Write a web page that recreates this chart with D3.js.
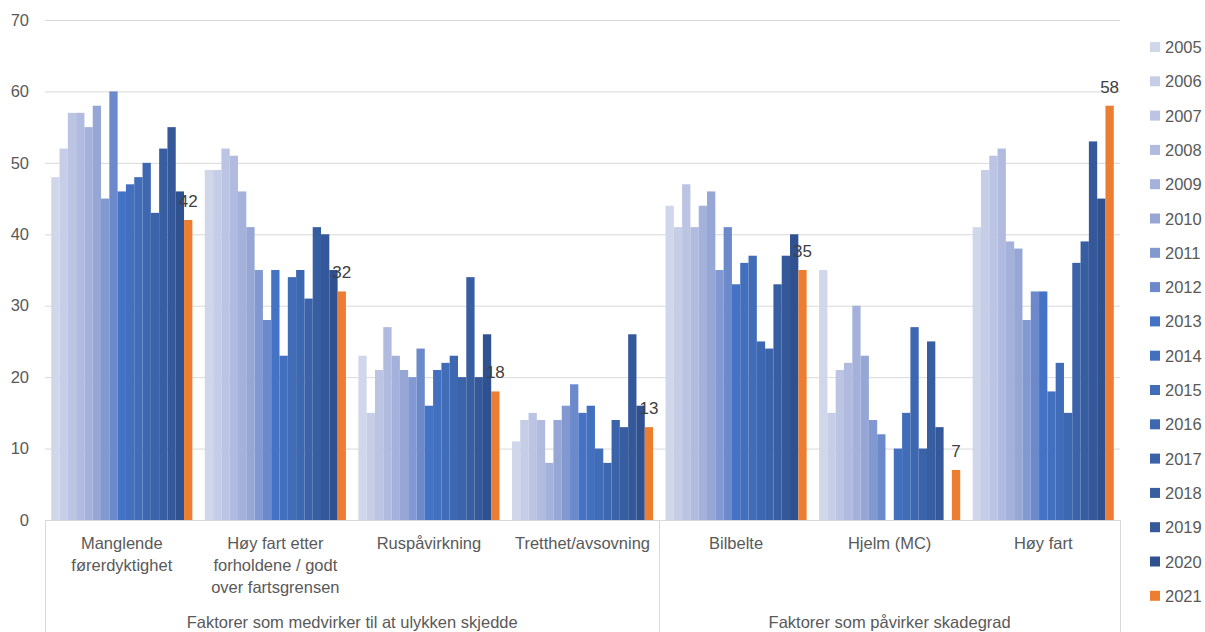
<!DOCTYPE html>
<html>
<head>
<meta charset="utf-8">
<script src="https://cdn.jsdelivr.net/npm/d3@7"></script>
<style>
  html, body { margin: 0; padding: 0; background: #ffffff; }
  svg { display: block; font-family: "Liberation Sans", Arial, sans-serif; }
</style>
</head>
<body>
<svg id="chart" width="1205" height="632"></svg>
<script>
// Categories (two-level axis)
const categories = [
  "Manglende førerdyktighet",
  "Høy fart etter forholdene / godt over fartsgrensen",
  "Ruspåvirkning",
  "Tretthet/avsovning",
  "Bilbelte",
  "Hjelm (MC)",
  "Høy fart"
];
const categoryLines = [
  ["Manglende", "førerdyktighet"],
  ["Høy fart etter", "forholdene / godt", "over fartsgrensen"],
  ["Ruspåvirkning"],
  ["Tretthet/avsovning"],
  ["Bilbelte"],
  ["Hjelm (MC)"],
  ["Høy fart"]
];
const groupNames = ["Faktorer som medvirker til at ulykken skjedde", "Faktorer som påvirker skadegrad"];
const groupSizes = [4, 3];

const years = ["2005","2006","2007","2008","2009","2010","2011","2012","2013",
               "2014","2015","2016","2017","2018","2019","2020","2021"];

// Values per year, one entry per category in the order above (null = no value)
const v2005 = [48, 49, 23, 11, 44, 35, 41];
const v2006 = [52, 49, 15, 14, 41, 15, 49];
const v2007 = [57, 52, 21, 15, 47, 21, 51];
const v2008 = [57, 51, 27, 14, 41, 22, 52];
const v2009 = [55, 46, 23, 8, 44, 30, 39];
const v2010 = [58, 41, 21, 14, 46, 23, 38];
const v2011 = [45, 35, 20, 16, 35, 14, 28];
const v2012 = [60, 28, 24, 19, 41, 12, 32];
const v2013 = [46, 35, 16, 15, 33, null, 32];
const v2014 = [47, 23, 21, 16, 36, 10, 18];
const v2015 = [48, 34, 22, 10, 37, 15, 22];
const v2016 = [50, 35, 23, 8, 25, 27, 15];
const v2017 = [43, 31, 20, 14, 24, 10, 36];
const v2018 = [52, 41, 34, 13, 33, 25, 39];
const v2019 = [55, 40, 20, 26, 37, 13, 53];
const v2020 = [46, 35, 26, 16, 40, null, 45];
const v2021 = [42, 32, 18, 13, 35, 7, 58];
const seriesValues = [v2005, v2006, v2007, v2008, v2009, v2010, v2011, v2012, v2013,
                      v2014, v2015, v2016, v2017, v2018, v2019, v2020, v2021];

const yTicks = [0, 10, 20, 30, 40, 50, 60, 70];

const colors = ["#d1d7eb","#c6cee7","#bbc4e3","#b0bbdf","#a4b1da","#96a6d5","#8298d0","#6c89cc",
                "#4472c4","#4270bf","#406cb8","#3d67b1","#3b63aa","#385ea2","#34589a","#2f5190",
                "#ed7d31"];

const svg = d3.select("#chart");
const plot = { left: 45, right: 1120, top: 20, bottom: 520 };

const x0 = d3.scaleBand().domain(categories).range([plot.left, plot.right]).paddingInner(0).paddingOuter(0);
const x1 = d3.scaleBand().domain(years).range([0, x0.bandwidth()]).paddingInner(0).paddingOuter(0.75);
const y = d3.scaleLinear().domain([0, 70]).range([plot.bottom, plot.top]);
const color = d3.scaleOrdinal().domain(years).range(colors);

// Gridlines
svg.append("g")
  .selectAll("line")
  .data(yTicks)
  .join("line")
  .attr("x1", plot.left).attr("x2", plot.right)
  .attr("y1", d => y(d) + 0.5).attr("y2", d => y(d) + 0.5)
  .attr("stroke", "#d9d9d9").attr("stroke-width", 1);

// Y axis labels
const yAxis = d3.axisLeft(y).tickValues(yTicks).tickSize(0).tickPadding(0);
svg.append("g")
  .attr("transform", `translate(29,0)`)
  .call(yAxis)
  .call(g => g.select(".domain").remove())
  .call(g => g.selectAll("text")
    .attr("fill", "#595959")
    .style("font-size", "16.5px")
    .style("font-family", "'Liberation Sans', Arial, sans-serif"));

// Bars
const rows = [];
years.forEach((yr, si) => {
  categories.forEach((c, ci) => {
    const v = seriesValues[si][ci];
    if (v !== null) rows.push({ year: yr, cat: c, value: v });
  });
});

svg.append("g")
  .selectAll("rect")
  .data(rows)
  .join("rect")
  .attr("x", d => x0(d.cat) + x1(d.year))
  .attr("y", d => y(d.value))
  .attr("width", x1.bandwidth())
  .attr("height", d => y(0) - y(d.value))
  .attr("fill", d => color(d.year));

// Value labels for the latest year
svg.append("g")
  .selectAll("text")
  .data(rows.filter(d => d.year === "2021"))
  .join("text")
  .attr("x", d => x0(d.cat) + x1(d.year) + x1.bandwidth() / 2)
  .attr("y", d => y(d.value) - 13)
  .attr("text-anchor", "middle")
  .attr("fill", "#404040")
  .style("font-size", "17px")
  .text(d => d.value);

// Category axis: baseline and separators
const axisColor = "#d9d9d9";
svg.append("line")
  .attr("x1", plot.left).attr("x2", plot.right)
  .attr("y1", plot.bottom + 0.5).attr("y2", plot.bottom + 0.5)
  .attr("stroke", axisColor);

let idx = 0;
const groupBounds = groupSizes.map(n => {
  const start = x0(categories[idx]);
  const end = x0(categories[idx + n - 1]) + x0.bandwidth();
  idx += n;
  return [start, end];
});
const sepXs = [plot.left, ...groupBounds.map(b => b[1])];
svg.append("g")
  .selectAll("line")
  .data(sepXs)
  .join("line")
  .attr("x1", d => Math.round(d) + 0.5).attr("x2", d => Math.round(d) + 0.5)
  .attr("y1", plot.bottom).attr("y2", 632)
  .attr("stroke", axisColor);

// Category labels
const catLabels = svg.append("g")
  .selectAll("text")
  .data(categories)
  .join("text")
  .attr("x", d => x0(d) + x0.bandwidth() / 2)
  .attr("y", 549)
  .attr("text-anchor", "middle")
  .attr("fill", "#595959")
  .style("font-size", "16.5px");
catLabels.each(function(d, i) {
  const t = d3.select(this);
  categoryLines[i].forEach((line, li) => {
    t.append("tspan")
      .attr("x", x0(d) + x0.bandwidth() / 2)
      .attr("dy", li === 0 ? 0 : 22)
      .text(line);
  });
});

// Group labels
svg.append("g")
  .selectAll("text")
  .data(groupNames)
  .join("text")
  .attr("x", (d, i) => (groupBounds[i][0] + groupBounds[i][1]) / 2)
  .attr("y", 628)
  .attr("text-anchor", "middle")
  .attr("fill", "#595959")
  .style("font-size", "16.5px")
  .text(d => d);

// Legend
const legend = svg.append("g")
  .selectAll("g")
  .data(years)
  .join("g")
  .attr("transform", (d, i) => `translate(1150, ${47 + i * 34.3})`);
legend.append("rect")
  .attr("x", 0).attr("y", -5)
  .attr("width", 10).attr("height", 10)
  .attr("fill", d => color(d));
legend.append("text")
  .attr("x", 15).attr("y", 6)
  .attr("fill", "#595959")
  .style("font-size", "16.5px")
  .text(d => d);
</script>
</body>
</html>
